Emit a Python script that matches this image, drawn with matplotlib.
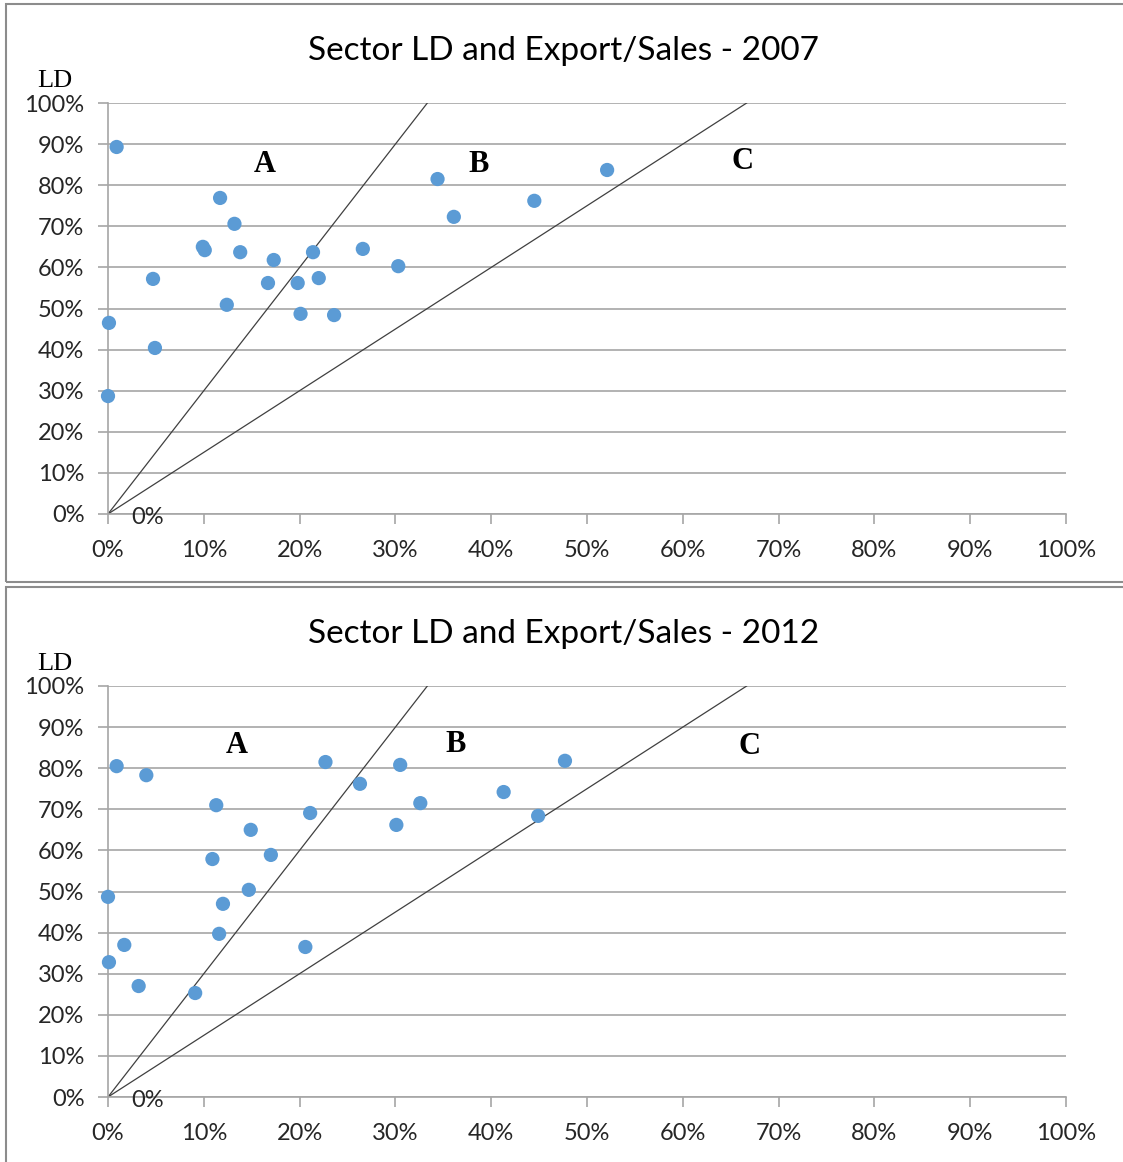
import matplotlib
matplotlib.use("Agg")
import matplotlib.pyplot as plt
from matplotlib.patches import Rectangle
from matplotlib.ticker import MultipleLocator, FuncFormatter

W, H = 1123, 1162

# export/sales share (x) and LD share (y), in percent
export_2007 = [0.9, 11.7, 13.2, 9.9, 10.1, 13.8, 17.3, 21.4, 26.6, 30.3, 4.7, 16.7,
               19.8, 22.0, 12.4, 20.1, 23.6, 0.1, 4.9, 0.0, 34.4, 36.1, 44.5, 52.1]
ld_2007 = [89.3, 76.9, 70.6, 65.0, 64.2, 63.7, 61.8, 63.7, 64.5, 60.3, 57.2, 56.2,
           56.2, 57.4, 50.9, 48.7, 48.4, 46.5, 40.4, 28.7, 81.5, 72.3, 76.2, 83.7]

export_2012 = [0.9, 4.0, 11.3, 14.9, 21.1, 22.7, 26.3, 30.5, 32.6, 30.1, 41.3, 44.9,
               47.7, 10.9, 17.0, 14.7, 12.0, 11.6, 20.6, 0.0, 1.7, 0.1, 3.2, 9.1]
ld_2012 = [80.5, 78.3, 71.0, 65.0, 69.1, 81.5, 76.2, 80.8, 71.5, 66.2, 74.2, 68.4,
           81.8, 57.9, 58.9, 50.4, 47.0, 39.7, 36.5, 48.7, 37.0, 32.8, 27.0, 25.3]

# boundary lines through the origin: LD = slope * export share
boundary_slopes = [3.0, 1.5]
zone_names = ["A", "B", "C"]
zone_pos_2007 = [(16.4, 85.0), (38.7, 85.0), (66.2, 85.7)]
zone_pos_2012 = [(13.4, 85.5), (36.3, 85.7), (67.0, 85.2)]

panels = [
    ("Sector LD and Export/Sales - 2007", export_2007, ld_2007, zone_pos_2007, 0, (4, 582)),
    ("Sector LD and Export/Sales - 2012", export_2012, ld_2012, zone_pos_2012, 583, (587, 1180)),
]

SANS = ["Lato", "DejaVu Sans"]
SERIF = ["Liberation Serif", "DejaVu Serif"]
DOT = "#5B9BD5"
GRID = "#A6A6A6"
TEXT = "#262626"

fig = plt.figure(figsize=(W / 100, H / 100), dpi=100)

for title, xs, ys, zones, off, (box_top, box_bot) in panels:
    # panel frame, open to the right like the cropped original
    fig.patches.append(Rectangle((6 / W, 1 - box_bot / H), 1.2, (box_bot - box_top) / H,
                                 transform=fig.transFigure, fill=False,
                                 edgecolor="#8C8C8C", linewidth=1.5))
    ax = fig.add_axes([108 / W, 1 - (off + 514) / H, 958 / W, 411 / H])
    ax.set_xlim(0, 100)
    ax.set_ylim(0, 100)
    ax.xaxis.set_major_locator(MultipleLocator(10))
    ax.yaxis.set_major_locator(MultipleLocator(10))
    pct = FuncFormatter(lambda v, _: f"{v:.0f}%")
    ax.xaxis.set_major_formatter(pct)
    ax.yaxis.set_major_formatter(pct)
    ax.grid(axis="y", color=GRID, linewidth=1.2)
    ax.set_axisbelow(True)
    for side in ("top", "right"):
        ax.spines[side].set_visible(False)
    for side in ("left", "bottom"):
        ax.spines[side].set_color(GRID)
        ax.spines[side].set_linewidth(1.2)
    ax.tick_params(axis="both", direction="out", length=7, width=1.2, color=GRID,
                   labelsize=17, labelcolor=TEXT)
    ax.tick_params(axis="x", pad=11.5)
    ax.tick_params(axis="y", pad=10)
    for lab in ax.get_xticklabels() + ax.get_yticklabels():
        lab.set_family(SANS)

    for k in boundary_slopes:
        ax.plot([0, 100 / k], [0, 100], color="#404040", linewidth=0.9, zorder=2)

    ax.scatter(xs, ys, s=105, color=DOT, edgecolors="none", zorder=3, clip_on=False)

    for name, (zx, zy) in zip(zone_names, zones):
        ax.text(zx, zy, name, family=SERIF, weight="bold", fontsize=22,
                ha="center", va="center", color="black")
    ax.text(4.1, -0.9, "0%", family=SANS, fontsize=17, color=TEXT, ha="center", va="center")

    fig.text(564 / W, 1 - (off + 51) / H, title, family=SANS, fontsize=24,
             ha="center", va="center", color="black")
    fig.text(55 / W, 1 - (off + 81) / H, "LD", family=SERIF, fontsize=19,
             ha="center", va="center", color="black")

fig.savefig("out.png", dpi=100)
